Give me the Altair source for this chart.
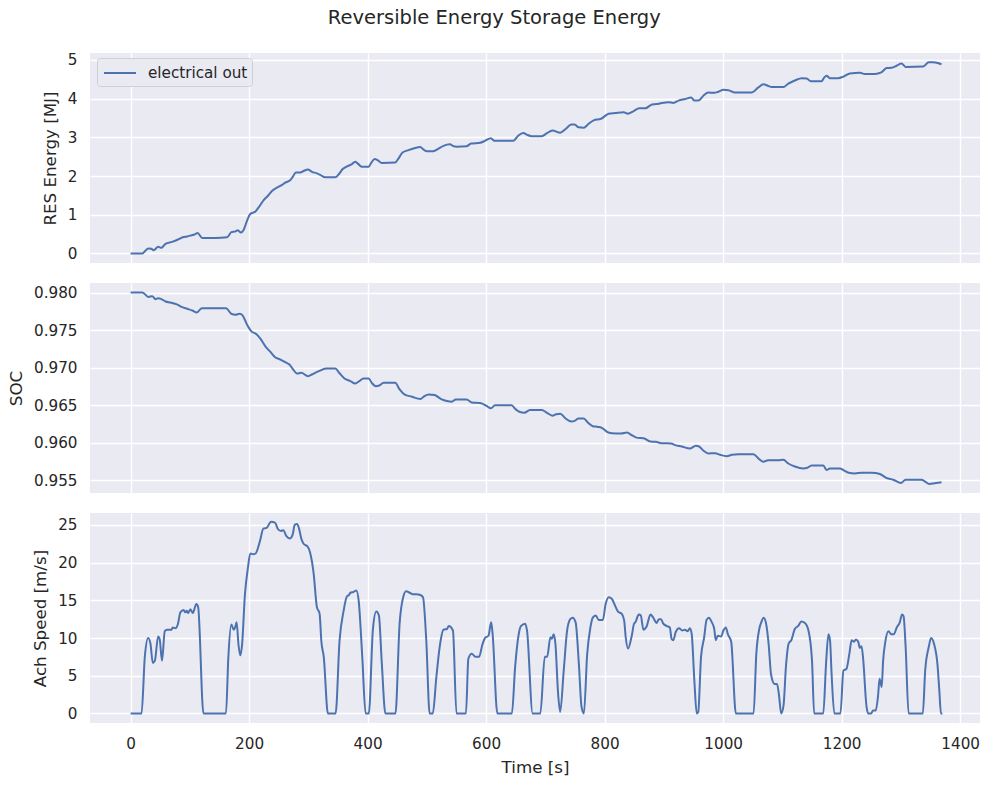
import altair as alt
import pandas as pd

# ---- time series (seconds) ----
t_energy = [0, 19.7, 29.8, 35, 39, 46.6, 52, 59, 70, 80, 88, 95.5, 103, 108, 113, 121, 143, 163,
            170, 177, 181, 186, 191, 196.6, 202, 210.7, 216, 224.7, 233, 239, 247, 255.6, 261,
            270, 273.6, 279, 286.5, 292, 299.4, 306, 314.6, 320, 328.7, 345.5, 351, 358, 367,
            373.6, 379, 383.7, 390, 401.7, 406, 412, 417, 424, 446.6, 452, 459, 469, 477.5, 489,
            494, 500, 511, 519.7, 528, 539, 545, 550.6, 567, 574.7, 590, 598, 608, 614, 646,
            654.5, 663, 668.5, 677, 694, 702, 712, 725, 733.7, 744, 749.4, 756, 764.6, 773,
            781.5, 794, 806.7, 818, 832, 839, 849, 858.4, 868.5, 880, 888, 896.6, 908, 916,
            924.7, 936, 946, 951.7, 958, 967, 975, 985, 992, 1000.6, 1009, 1020, 1048, 1059.5,
            1068, 1076, 1082, 1101.7, 1110, 1121, 1132.6, 1141, 1148, 1166, 1170.8, 1174.7,
            1180, 1194, 1203, 1214, 1231, 1239, 1256, 1267, 1276, 1284, 1292.7, 1301, 1308,
            1337.6, 1347, 1354.5, 1368.5]
energy = [0.0, 0.0, 0.13, 0.12, 0.085, 0.17, 0.145, 0.25, 0.30, 0.36, 0.42, 0.44, 0.47, 0.49,
          0.53, 0.40, 0.40, 0.42, 0.55, 0.57, 0.60, 0.54, 0.615, 0.85, 1.02, 1.085, 1.19, 1.38,
          1.51, 1.62, 1.70, 1.77, 1.83, 1.90, 1.98, 2.09, 2.09, 2.13, 2.17, 2.11, 2.07, 2.03,
          1.97, 1.97, 2.04, 2.18, 2.26, 2.31, 2.37, 2.32, 2.24, 2.24, 2.34, 2.44, 2.41, 2.34,
          2.35, 2.45, 2.61, 2.67, 2.71, 2.75, 2.69, 2.64, 2.64, 2.71, 2.78, 2.82, 2.77, 2.76,
          2.77, 2.84, 2.86, 2.91, 2.98, 2.91, 2.91, 3.05, 3.11, 3.07, 3.03, 3.03, 3.10, 3.18,
          3.12, 3.21, 3.33, 3.33, 3.26, 3.25, 3.35, 3.44, 3.48, 3.61, 3.63, 3.65, 3.61, 3.68,
          3.75, 3.75, 3.85, 3.86, 3.89, 3.91, 3.89, 3.95, 3.99, 4.03, 3.95, 3.95, 4.08, 4.16,
          4.15, 4.18, 4.23, 4.22, 4.16, 4.16, 4.29, 4.37, 4.33, 4.30, 4.30, 4.39, 4.47, 4.53,
          4.52, 4.45, 4.45, 4.55, 4.59, 4.53, 4.53, 4.57, 4.65, 4.67, 4.64, 4.64, 4.68, 4.79,
          4.80, 4.85, 4.91, 4.82, 4.83, 4.94, 4.94, 4.89]

t_soc = [0, 20, 30, 36.5, 42, 46.6, 52, 59, 67.4, 77, 87, 95.5, 104, 112, 120, 161, 170, 177,
         184, 189, 196.6, 204, 212, 219, 227.5, 236, 244, 253, 261, 268, 273.6, 281, 288,
         299.4, 306, 317.4, 330, 345.5, 352, 361, 371, 379, 386, 393, 401.7, 407, 414, 419.6,
         427, 446.6, 454, 462, 474.7, 489, 496, 503, 513, 525, 533.7, 542, 549, 567, 576, 590,
         601, 608, 615, 643, 650, 657, 664.6, 674, 694, 702, 712, 718, 725, 733.7, 744, 749.4,
         756, 764.6, 772, 780, 789, 796.6, 804, 812, 828, 837.6, 846, 855.6, 865.7, 877, 886.5,
         895.5, 912, 919, 930, 944, 954, 959.5, 967, 975, 986.5, 995, 1006, 1014.6, 1026,
         1051, 1060.7, 1068, 1076, 1093, 1101.7, 1110, 1121, 1135.4, 1141, 1149.4, 1169,
         1174.7, 1180, 1197, 1203, 1212, 1222.5, 1233.7, 1250.6, 1264.6, 1275.8, 1287, 1300,
         1308, 1335, 1340.4, 1348, 1357, 1368.5]
soc = [0.98000, 0.98000, 0.97942, 0.97951, 0.97912, 0.97925, 0.97912, 0.97881, 0.97867,
       0.97845, 0.97805, 0.97783, 0.97761, 0.97735, 0.97792, 0.97792, 0.97717, 0.97704,
       0.97717, 0.97695, 0.97571, 0.97482, 0.97447, 0.97385, 0.97283, 0.97208, 0.97137,
       0.97106, 0.97071, 0.97040, 0.96982, 0.96920, 0.96929, 0.96885, 0.96907, 0.96951,
       0.96987, 0.96987, 0.96930, 0.96854, 0.96819, 0.96788, 0.96819, 0.96854, 0.96854,
       0.96796, 0.96752, 0.96761, 0.96796, 0.96796, 0.96708, 0.96642, 0.96611, 0.96580,
       0.96620, 0.96642, 0.96633, 0.96575, 0.96553, 0.96544, 0.96575, 0.96575, 0.96535,
       0.96527, 0.96487, 0.96456, 0.96496, 0.96496, 0.96442, 0.96407, 0.96398, 0.96434,
       0.96434, 0.96400, 0.96358, 0.96376, 0.96385, 0.96323, 0.96279, 0.96288, 0.96319,
       0.96319, 0.96265, 0.96217, 0.96208, 0.96190, 0.96142, 0.96124, 0.96120, 0.96133,
       0.96097, 0.96062, 0.96058, 0.96013, 0.96009, 0.95991, 0.95987, 0.95965, 0.95947,
       0.95920, 0.95956, 0.95947, 0.95890, 0.95854, 0.95858, 0.95836, 0.95818, 0.95836,
       0.95845, 0.95845, 0.95779, 0.95743, 0.95765, 0.95765, 0.95770, 0.95720, 0.95681,
       0.95655, 0.95659, 0.95695, 0.95695, 0.95633, 0.95655, 0.95655, 0.95633, 0.95597,
       0.95588, 0.95597, 0.95597, 0.95580, 0.95527, 0.95504, 0.95460, 0.95504, 0.95504,
       0.95482, 0.95447, 0.95456, 0.95469]

t_speed = [0, 18.5, 24, 29.7, 33.6, 37.5, 41, 46.5, 49, 53, 57.7, 61.6, 69, 71, 75.6, 80, 84,
           89.6, 92.4, 95, 97, 101, 105, 111, 114, 123, 161, 165, 170, 174, 176.5, 179, 182,
           185, 188, 193, 198, 202, 207, 211, 218.5, 224, 229.6, 237, 243.7, 249, 254, 257.7,
           263, 269, 273.5, 277, 280.6, 284, 288, 292, 299, 303, 309, 314.4, 319, 322, 326,
           333, 346, 352.7, 359.5, 365, 368.5, 371, 376, 381, 385, 391, 396.6, 402, 409,
           414.6, 419, 424, 430, 447, 454, 460, 465, 471, 476.5, 482, 489, 493.5, 499, 504.7,
           510, 516, 521.6, 528, 534, 537, 544, 550, 566, 570, 575.7, 582.5, 588, 594, 598,
           604, 608.5, 611, 619, 643.5, 649, 655, 659, 666, 669, 678.5, 691.5, 699, 703,
           708.5, 711, 714, 717, 721.5, 725, 731, 736.7, 742, 746, 751, 756.5, 761, 765,
           770.6, 776, 780, 785, 790, 797, 801.7, 807, 812, 817.5, 822.6, 829, 833, 835.6,
           839.5, 845.8, 849.7, 852, 857.6, 861, 865.5, 870.6, 877.4, 882, 887.6, 891.5, 895,
           899, 904.5, 910, 913, 916, 920, 925.7, 931, 935.6, 940, 944, 947, 951.4, 955.4,
           958, 962.7, 968, 972, 976, 980.8, 985, 987.6, 991, 996.6, 1000.5, 1004.5, 1008,
           1013.6, 1021.5, 1051.4, 1056, 1061, 1064.4, 1068.4, 1072.3, 1076.8, 1081, 1087,
           1091, 1094, 1098, 1102, 1106, 1110.7, 1115, 1121, 1126.6, 1132, 1138, 1144, 1150,
           1153.6, 1169, 1173.7, 1177.7, 1180.4, 1183, 1187.7, 1198, 1203, 1208, 1213,
           1216.8, 1221, 1224, 1228, 1230.7, 1233.5, 1236, 1242, 1244.7, 1250, 1253, 1257.5,
           1261.5, 1264, 1267.6, 1270, 1273.7, 1279, 1283.8, 1288, 1293, 1297.8, 1302,
           1304.5, 1308, 1313, 1337, 1341, 1347, 1351, 1356, 1361.6, 1364.8, 1367.6, 1370]
speed = [0, 0, 7.5, 10.0, 9.2, 6.7, 7.0, 10.2, 9.9, 7.0, 10.9, 11.1, 11.1, 11.4, 11.3, 11.9,
         13.4, 13.7, 13.4, 13.6, 13.3, 13.8, 13.3, 14.5, 14.1, 0, 0, 7.5, 11.8, 11.1, 11.4,
         12.1, 9.2, 7.7, 9.0, 15.8, 19.3, 21.2, 21.1, 21.2, 22.9, 24.5, 24.6, 25.4, 25.3, 24.4,
         24.2, 24.3, 23.5, 23.2, 23.7, 25.0, 25.1, 24.6, 23.2, 22.5, 22.1, 21.3, 18.5, 14.1,
         13.2, 9.5, 7.5, 0, 0, 9.7, 13.6, 15.5, 15.7, 16.0, 16.1, 16.3, 14.9, 7.5, 0, 0, 11.2,
         13.5, 13.0, 6.6, 0, 0, 11.9, 15.4, 16.2, 16.0, 15.8, 15.8, 15.7, 15.4, 9.7, 0, 0, 4.8,
         8.8, 11.1, 11.2, 11.6, 11.0, 0, 0, 7.25, 7.9, 7.5, 7.5, 9.2, 10.0, 10.3, 12.1, 10.5,
         0, 0, 6.2, 10.5, 11.6, 11.9, 11.0, 0, 0, 7.5, 7.5, 10.1, 9.9, 10.5, 9.2, 2.6, 0.2,
         5.7, 11.0, 12.5, 12.7, 12.1, 6.6, 0.9, 0, 7.9, 11.4, 12.7, 13.0, 12.4, 12.4, 14.5,
         15.4, 15.2, 14.3, 13.5, 13.2, 12.3, 10.1, 8.6, 10.3, 11.9, 12.1, 13.1, 13.0, 11.1,
         11.5, 13.1, 12.7, 12.0, 12.5, 12.5, 11.9, 11.6, 11.4, 9.9, 9.7, 10.8, 11.3, 11.0,
         11.1, 10.9, 11.3, 10.5, 4.4, 0, 0.2, 7.5, 10.1, 12.4, 12.7, 12.1, 11.2, 9.7, 10.3,
         10.2, 11.0, 11.4, 10.5, 9.5, 0, 0, 7.9, 11.2, 12.1, 12.7, 12.0, 9.2, 5.1, 3.9, 3.9,
         2.6, 0, 1.1, 6.2, 9.3, 9.7, 11.2, 11.6, 12.2, 12.0, 11.0, 7.0, 0, 0, 6.6, 10.5, 9.7,
         5.3, 0, 0, 5.7, 5.9, 7.9, 9.7, 9.5, 9.8, 9.5, 8.7, 8.9, 7.5, 0.9, 0, 0, 0.4, 0.4,
         2.4, 4.6, 3.5, 7.0, 9.5, 10.9, 10.5, 10.5, 11.4, 12.0, 13.1, 12.9, 8.8, 0, 0, 5.7,
         8.8, 10.0, 9.2, 6.6, 3.1, 0, 0]

time_ticks = [0, 200, 400, 600, 800, 1000, 1200, 1400]
energy_ticks = [0, 1, 2, 3, 4, 5]
soc_ticks = [0.955, 0.960, 0.965, 0.970, 0.975, 0.980]
speed_ticks = [0, 5, 10, 15, 20, 25]

LINE = "#4C72B0"
INK = "#262626"
FONT = "DejaVu Sans"
W, H = 890, 210

df_energy = pd.DataFrame({"t": t_energy, "v": energy, "series": "electrical out"})
df_soc = pd.DataFrame({"t": t_soc, "v": soc})
df_speed = pd.DataFrame({"t": t_speed, "v": speed})

x_scale = alt.Scale(domain=[-68.5, 1433.5], nice=False, zero=False)


def x_enc(show_labels):
    if show_labels:
        axis = alt.Axis(values=time_ticks, format="d", title="Time [s]")
    else:
        axis = alt.Axis(values=time_ticks, labels=False, title=None)
    return alt.X("t:Q", scale=x_scale, axis=axis)


energy_chart = alt.Chart(df_energy).mark_line(
    strokeWidth=2, interpolate="monotone"
).encode(
    x=x_enc(False),
    y=alt.Y("v:Q", scale=alt.Scale(domain=[-0.247, 5.18], nice=False, zero=False),
            axis=alt.Axis(values=energy_ticks, format="d", title="RES Energy [MJ]")),
    color=alt.Color("series:N", scale=alt.Scale(range=[LINE]),
                    legend=alt.Legend(
                        title=None, orient="none", legendX=7, legendY=5,
                        symbolType="M-1.6,0H1.6", symbolSize=400, symbolStrokeWidth=2,
                        symbolOffset=8,
                        labelFont=FONT, labelFontSize=15.2, labelColor=INK,
                        labelOffset=17, padding=4, fillColor="#EAEAF2",
                        strokeColor="#CFCFD6", cornerRadius=3)),
).properties(width=W, height=H)

soc_chart = alt.Chart(df_soc).mark_line(
    strokeWidth=2, interpolate="monotone", color=LINE
).encode(
    x=x_enc(False),
    y=alt.Y("v:Q", scale=alt.Scale(domain=[0.95327, 0.98127], nice=False, zero=False),
            axis=alt.Axis(values=soc_ticks, format=".3f", title="SOC")),
).properties(width=W, height=H)

speed_chart = alt.Chart(df_speed).mark_line(
    strokeWidth=2, interpolate="monotone", color=LINE
).encode(
    x=x_enc(True),
    y=alt.Y("v:Q", scale=alt.Scale(domain=[-1.265, 26.57], nice=False, zero=False),
            axis=alt.Axis(values=speed_ticks, format="d", title="Ach Speed [m/s]")),
).properties(width=W, height=H)

chart = alt.vconcat(
    energy_chart, soc_chart, speed_chart, spacing=20
).resolve_legend(
    color="independent"
).properties(
    title=alt.TitleParams("Reversible Energy Storage Energy", font=FONT, fontSize=19.5,
                          fontWeight="normal", color=INK, anchor="middle", frame="bounds",
                          offset=24),
    padding={"left": 8, "top": 8, "right": 12, "bottom": 5},
    background="white",
).configure_view(
    fill="#EAEAF2", stroke=None
).configure_axis(
    domain=False, ticks=False, grid=True, gridColor="white", gridWidth=1.4,
    labelFont=FONT, labelFontSize=15.2, labelColor=INK, labelPadding=13,
    titleFont=FONT, titleFontSize=16.7, titleColor=INK, titleFontWeight="normal",
    titlePadding=8,
)

chart.save("out.html", embed_options={"renderer": "svg", "actions": False})
